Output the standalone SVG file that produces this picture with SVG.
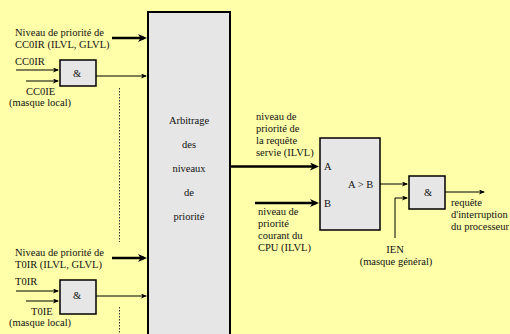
<svg xmlns="http://www.w3.org/2000/svg" width="510" height="334" viewBox="0 0 510 334">
<style>
text{font-family:"Liberation Serif","Times New Roman",serif;font-size:10.5px;fill:#111}
.mid{text-anchor:middle}
.box{fill:#e6e6e6;stroke:#000;stroke-width:1.5}
.big{fill:#e6e6e6;stroke:#000;stroke-width:2}
.thin{stroke:#000;stroke-width:1;fill:none}
.thick{stroke:#000;stroke-width:2.5;fill:none}
.dot{stroke:#333;stroke-width:1;stroke-dasharray:1.5 1.5;fill:none}
</style>
<defs>
<marker id="ahBig" viewBox="0 0 9 8" refX="6" refY="4" markerWidth="9" markerHeight="8" markerUnits="userSpaceOnUse" orient="auto"><path d="M0,0 L9,4 L0,8 L2.5,4 z" fill="#000"/></marker>
<marker id="ahSmall" viewBox="0 0 6 5" refX="5" refY="2.5" markerWidth="6" markerHeight="5" markerUnits="userSpaceOnUse" orient="auto"><path d="M0,0 L6,2.5 L0,5 L1.5,2.5 z" fill="#000"/></marker>
</defs>
<rect x="0" y="0" width="510" height="334" fill="#ffffaa"/>

<g id="arbitrage">
<rect class="big" x="148" y="12" width="82" height="330"/>
<text class="mid" x="189" y="124">Arbitrage</text>
<text class="mid" x="189" y="148">des</text>
<text class="mid" x="189" y="172">niveaux</text>
<text class="mid" x="189" y="196">de</text>
<text class="mid" x="189" y="220">priorité</text>
</g>

<g id="and-cc0">
<rect class="box" x="60" y="60" width="36" height="26"/>
<text class="mid" x="77" y="77">&amp;</text>
</g>

<g id="and-t0">
<rect class="box" x="60" y="280" width="36" height="34"/>
<text class="mid" x="77" y="299">&amp;</text>
</g>

<g id="comparator">
<rect class="box" x="320" y="138" width="60" height="92"/>
<text x="324" y="170">A</text>
<text x="324" y="207">B</text>
<text x="348" y="188">A &gt; B</text>
</g>

<g id="and-out">
<rect class="box" x="409" y="176" width="36" height="33"/>
<text class="mid" x="428" y="196">&amp;</text>
</g>

<g id="labels">
<text x="15" y="36">Niveau de priorité de</text>
<text x="15" y="47.5">CC0IR (ILVL, GLVL)</text>
<text x="15" y="65">CC0IR</text>
<text x="26" y="95">CC0IE</text>
<text x="9" y="106">(masque local)</text>
<text x="15" y="256">Niveau de priorité de</text>
<text x="15" y="267.5">T0IR (ILVL, GLVL)</text>
<text x="15" y="285">T0IR</text>
<text x="31" y="315">T0IE</text>
<text x="9" y="326">(masque local)</text>
<text x="256" y="120">niveau de</text>
<text x="256" y="132">priorité de</text>
<text x="256" y="144">la requête</text>
<text x="256" y="156">servie (ILVL)</text>
<text x="258" y="215">niveau de</text>
<text x="258" y="227">priorité</text>
<text x="258" y="239">courant du</text>
<text x="258" y="251">CPU (ILVL)</text>
<text class="mid" x="395" y="253">IEN</text>
<text class="mid" x="396" y="265">(masque général)</text>
<text x="451" y="206">requête</text>
<text x="451" y="218">d'interruption</text>
<text x="451" y="230">du processeur</text>
</g>

<g id="connectors">
<line class="thick" x1="112" y1="38" x2="144" y2="38" marker-end="url(#ahBig)"/>
<line class="thin" x1="96" y1="76" x2="146" y2="76" marker-end="url(#ahSmall)"/>
<line class="thin" x1="16" y1="70" x2="58" y2="70" marker-end="url(#ahSmall)"/>
<line class="thin" x1="26" y1="81" x2="58" y2="81" marker-end="url(#ahSmall)"/>
<line class="thick" x1="112" y1="258" x2="144" y2="258" marker-end="url(#ahBig)"/>
<line class="thin" x1="96" y1="296" x2="146" y2="296" marker-end="url(#ahSmall)"/>
<line class="thin" x1="16" y1="291" x2="58" y2="291" marker-end="url(#ahSmall)"/>
<line class="thin" x1="26" y1="301" x2="58" y2="301" marker-end="url(#ahSmall)"/>
<line class="dot" x1="119.5" y1="88" x2="119.5" y2="242"/>
<line class="dot" x1="119.5" y1="307" x2="119.5" y2="334"/>
<line class="thick" x1="231" y1="166.5" x2="316" y2="166.5" marker-end="url(#ahBig)"/>
<line class="thick" x1="255" y1="203" x2="316" y2="203" marker-end="url(#ahBig)"/>
<line class="thin" x1="380" y1="184" x2="407" y2="184" marker-end="url(#ahSmall)"/>
<polyline class="thin" points="395,238 395,198 407,198" marker-end="url(#ahSmall)"/>
<line class="thin" x1="445" y1="192" x2="484" y2="192" marker-end="url(#ahSmall)"/>
</g>
</svg>
